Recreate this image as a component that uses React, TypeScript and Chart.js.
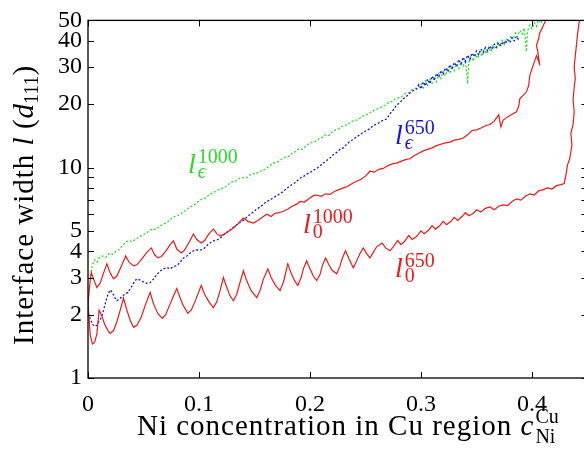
import React, { useEffect, useRef } from "react";
import { Chart, registerables } from "chart.js";
Chart.register(...registerables);

// ---- ticks ----
const xTicks = [0, 0.1, 0.2, 0.3, 0.4];
const yTicks = [1, 2, 3, 4, 5, 6, 7, 8, 9, 10, 20, 30, 40, 50];
const yLabelled = [1, 2, 3, 4, 5, 10, 20, 30, 40, 50];

// ---- l_eps^1000 (green, dotted) ----
const greenX = [
  0.000, 0.002, 0.004, 0.006, 0.008, 0.010, 0.013, 0.016, 0.019, 0.022, 0.025, 0.028, 0.031, 0.034, 0.037, 0.040,
  0.043, 0.046, 0.049, 0.052, 0.055, 0.058, 0.061, 0.064, 0.067, 0.070, 0.073, 0.076, 0.079, 0.082, 0.085, 0.088,
  0.091, 0.094, 0.097, 0.100, 0.103, 0.106, 0.109, 0.112, 0.115, 0.118, 0.121, 0.124, 0.127, 0.130, 0.133, 0.136,
  0.139, 0.142, 0.145, 0.148, 0.151, 0.154, 0.157, 0.160, 0.163, 0.166, 0.169, 0.172, 0.175, 0.178, 0.181, 0.184,
  0.187, 0.190, 0.193, 0.196, 0.199, 0.202, 0.205, 0.208, 0.211, 0.214, 0.217, 0.220, 0.223, 0.226, 0.229, 0.232,
  0.235, 0.238, 0.241, 0.244, 0.247, 0.250, 0.253, 0.256, 0.259, 0.262, 0.265, 0.268, 0.271, 0.274, 0.277, 0.280,
  0.283, 0.286, 0.289, 0.292, 0.295, 0.298, 0.300, 0.302, 0.304, 0.306, 0.308, 0.310, 0.312, 0.314, 0.316, 0.318,
  0.320, 0.322, 0.324, 0.326, 0.328, 0.330, 0.332, 0.334, 0.336, 0.338, 0.340, 0.342, 0.343, 0.345, 0.347, 0.349,
  0.351, 0.353, 0.355, 0.357, 0.359, 0.361, 0.363, 0.365, 0.367, 0.369, 0.371, 0.373, 0.375, 0.377, 0.379, 0.381,
  0.383, 0.385, 0.387, 0.389, 0.391, 0.393, 0.395, 0.396, 0.398, 0.400, 0.402, 0.404, 0.406, 0.408, 0.410,
];
const greenY = [
  2.95, 3.05, 3.45, 3.65, 3.55, 3.72, 3.80, 3.74, 3.90, 3.86, 4.00, 4.08, 4.25, 4.42, 4.50, 4.44,
  4.58, 4.66, 4.78, 4.86, 4.98, 5.12, 5.08, 5.22, 5.36, 5.45, 5.58, 5.80, 5.86, 5.95, 6.10, 6.25,
  6.45, 6.58, 6.72, 6.95, 7.10, 7.18, 7.42, 7.55, 7.70, 7.85, 7.98, 8.10, 8.35, 8.55, 8.62, 8.85,
  8.95, 8.90, 9.15, 9.35, 9.30, 9.55, 9.65, 9.85, 10.1, 10.4, 10.6, 10.7, 11.0, 11.2, 11.3, 11.7,
  11.9, 12.3, 12.2, 12.6, 13.0, 13.2, 13.3, 13.7, 13.9, 14.3, 14.2, 14.8, 15.1, 15.3, 15.7, 15.9,
  16.1, 16.6, 16.7, 17.0, 17.5, 17.7, 18.1, 18.4, 18.9, 19.1, 19.4, 19.8, 20.4, 20.6, 21.2, 21.5,
  21.8, 22.5, 22.7, 23.5, 23.8, 24.3, 25.0, 23.9, 25.8, 24.6, 26.4, 25.2, 27.0, 25.6, 27.8, 26.5,
  28.6, 27.2, 29.6, 28.0, 30.4, 28.9, 31.0, 29.5, 31.8, 30.4, 32.4, 25.0, 31.5, 33.6, 32.0, 34.6,
  33.0, 35.4, 33.8, 36.4, 34.6, 37.2, 35.4, 38.2, 36.5, 39.2, 37.6, 40.2, 38.4, 41.0, 39.6, 42.2,
  40.6, 43.5, 41.8, 44.8, 43.0, 46.0, 35.5, 44.5, 47.5, 45.6, 48.6, 46.8, 50.5, 48.5, 52.0,
];

// ---- l_eps^650 (blue, dotted) ----
const blueX = [
  0.000, 0.002, 0.004, 0.006, 0.008, 0.010, 0.012, 0.014, 0.016, 0.018, 0.020, 0.022, 0.024, 0.026, 0.028, 0.030,
  0.033, 0.036, 0.039, 0.042, 0.044, 0.047, 0.050, 0.053, 0.056, 0.059, 0.062, 0.065, 0.068, 0.071, 0.074, 0.077,
  0.080, 0.083, 0.086, 0.089, 0.092, 0.095, 0.098, 0.101, 0.104, 0.107, 0.110, 0.113, 0.116, 0.119, 0.122, 0.125,
  0.128, 0.131, 0.134, 0.137, 0.140, 0.143, 0.146, 0.149, 0.152, 0.155, 0.158, 0.161, 0.164, 0.167, 0.170, 0.173,
  0.176, 0.179, 0.182, 0.185, 0.188, 0.191, 0.194, 0.197, 0.200, 0.203, 0.206, 0.209, 0.212, 0.215, 0.218, 0.221,
  0.224, 0.227, 0.230, 0.233, 0.236, 0.239, 0.242, 0.245, 0.248, 0.251, 0.254, 0.257, 0.260, 0.263, 0.266, 0.269,
  0.272, 0.275, 0.278, 0.281, 0.284, 0.287, 0.290, 0.293, 0.296, 0.298, 0.300, 0.302, 0.304, 0.306, 0.308, 0.310,
  0.312, 0.314, 0.316, 0.318, 0.320, 0.322, 0.324, 0.326, 0.328, 0.330, 0.332, 0.334, 0.336, 0.338, 0.340, 0.342,
  0.344, 0.346, 0.348, 0.350, 0.352, 0.354, 0.356, 0.358, 0.360, 0.362, 0.364, 0.366, 0.368, 0.370, 0.372, 0.374,
  0.376, 0.378, 0.380, 0.382, 0.384, 0.386, 0.388,
];
const blueY = [
  2.03, 1.92, 1.80, 1.76, 1.78, 1.86, 1.94, 2.10, 2.30, 2.50, 2.62, 2.55, 2.42, 2.33, 2.36, 2.42,
  2.50, 2.55, 2.70, 2.88, 2.96, 2.92, 2.86, 2.82, 2.84, 2.95, 3.10, 3.22, 3.30, 3.35, 3.30, 3.38,
  3.41, 3.55, 3.72, 3.80, 3.92, 4.02, 4.06, 4.05, 4.10, 4.25, 4.38, 4.48, 4.52, 4.60, 4.78, 4.92,
  5.05, 5.20, 5.35, 5.50, 5.62, 5.80, 6.00, 6.15, 6.35, 6.48, 6.70, 6.90, 7.00, 7.20, 7.35, 7.50,
  7.70, 7.95, 8.20, 8.35, 8.60, 8.90, 9.05, 9.30, 9.45, 9.70, 9.90, 10.2, 10.5, 10.8, 11.1, 11.5,
  11.8, 12.2, 12.4, 12.9, 13.3, 13.6, 14.0, 14.3, 14.7, 15.0, 15.3, 15.8, 16.1, 16.4, 16.8, 17.0,
  18.0, 18.8, 19.8, 20.4, 21.2, 21.8, 22.6, 23.2, 23.6, 24.8, 23.6, 25.5, 24.4, 26.3, 25.0, 27.2,
  26.0, 28.0, 26.8, 28.9, 27.6, 29.8, 28.5, 30.8, 29.4, 31.6, 30.2, 32.6, 31.0, 33.4, 31.8, 34.2,
  32.6, 35.0, 33.6, 35.8, 34.4, 36.6, 35.2, 37.2, 35.8, 37.8, 36.4, 38.5, 37.2, 39.2, 37.8, 39.8,
  38.6, 40.6, 39.2, 41.4, 40.0, 42.0, 40.4,
];

// ---- l_0^1000 (red, solid) ----
const red1000X = [
  0.000, 0.002, 0.003, 0.005, 0.008, 0.011, 0.014, 0.017, 0.020, 0.023, 0.026, 0.030, 0.034, 0.037, 0.041, 0.044,
  0.048, 0.053, 0.057, 0.060, 0.063, 0.066, 0.070, 0.074, 0.077, 0.080, 0.084, 0.087, 0.091, 0.095, 0.098, 0.102,
  0.105, 0.109, 0.113, 0.116, 0.119, 0.122, 0.126, 0.131, 0.135, 0.140, 0.144, 0.149, 0.153, 0.157, 0.161, 0.165,
  0.168, 0.172, 0.176, 0.180, 0.184, 0.188, 0.191, 0.195, 0.199, 0.203, 0.206, 0.210, 0.214, 0.218, 0.222, 0.226,
  0.230, 0.234, 0.238, 0.242, 0.246, 0.250, 0.254, 0.258, 0.262, 0.266, 0.270, 0.274, 0.278, 0.282, 0.286, 0.290,
  0.294, 0.298, 0.302, 0.306, 0.310, 0.314, 0.318, 0.322, 0.326, 0.330, 0.334, 0.338, 0.342, 0.346, 0.350, 0.354,
  0.358, 0.362, 0.366, 0.370, 0.372, 0.374, 0.378, 0.382, 0.386, 0.388, 0.389, 0.392, 0.395, 0.397, 0.398, 0.401,
  0.404, 0.406, 0.407, 0.405, 0.404, 0.406, 0.407, 0.410, 0.413,
];
const red1000Y = [
  2.26, 2.90, 3.17, 2.95, 2.69, 2.82, 3.15, 3.49, 3.15, 2.96, 3.05, 3.40, 3.80, 3.55, 3.41, 3.45,
  3.65, 3.95, 4.15, 3.85, 3.72, 3.78, 4.00, 4.30, 4.48, 4.10, 3.93, 4.05, 4.40, 4.83, 4.55, 4.38,
  4.50, 4.85, 5.10, 4.85, 4.72, 4.80, 4.95, 5.16, 5.40, 5.75, 5.55, 5.45, 5.60, 5.80, 6.00, 5.85,
  6.05, 6.10, 6.20, 6.35, 6.55, 6.70, 6.90, 6.85, 7.10, 7.35, 7.40, 7.30, 7.50, 7.45, 7.70, 7.85,
  8.00, 8.15, 8.40, 8.60, 8.80, 9.10, 9.60, 9.50, 9.80, 9.90, 10.2, 10.4, 10.5, 10.7, 10.9, 11.0,
  11.4, 11.7, 12.0, 12.2, 12.4, 12.7, 12.9, 13.1, 13.2, 13.5, 13.6, 13.8, 14.3, 15.0, 15.1, 15.4,
  15.8, 16.0, 16.6, 17.8, 15.6, 16.8, 17.4, 17.9, 18.4, 19.5, 21.2, 22.0, 22.9, 24.5, 27.4, 30.5,
  34.0, 32.0, 30.6, 36.0, 38.0, 41.0, 43.6, 47.0, 51.0,
];

// ---- l_0^650 (red, solid) ----
const red650X = [
  0.000, 0.001, 0.002, 0.004, 0.006, 0.008, 0.010, 0.012, 0.015, 0.018, 0.020, 0.023, 0.026, 0.029, 0.032, 0.035,
  0.038, 0.041, 0.044, 0.048, 0.052, 0.056, 0.059, 0.063, 0.067, 0.070, 0.074, 0.077, 0.080, 0.083, 0.086, 0.090,
  0.093, 0.097, 0.102, 0.105, 0.109, 0.113, 0.116, 0.119, 0.122, 0.125, 0.128, 0.131, 0.134, 0.137, 0.140, 0.143,
  0.147, 0.152, 0.155, 0.158, 0.162, 0.165, 0.169, 0.173, 0.176, 0.180, 0.183, 0.186, 0.189, 0.192, 0.194, 0.197,
  0.200, 0.203, 0.206, 0.209, 0.211, 0.214, 0.217, 0.220, 0.224, 0.227, 0.229, 0.232, 0.235, 0.239, 0.242, 0.245,
  0.248, 0.251, 0.254, 0.257, 0.260, 0.265, 0.268, 0.272, 0.275, 0.279, 0.282, 0.285, 0.289, 0.292, 0.296, 0.300,
  0.303, 0.307, 0.310, 0.313, 0.317, 0.320, 0.323, 0.327, 0.330, 0.333, 0.337, 0.340, 0.343, 0.347, 0.350, 0.354,
  0.358, 0.362, 0.366, 0.370, 0.374, 0.378, 0.382, 0.386, 0.390, 0.394, 0.398, 0.402, 0.406, 0.410, 0.414, 0.418,
  0.422, 0.426, 0.429, 0.431, 0.432, 0.434, 0.436, 0.435, 0.437, 0.438, 0.437, 0.438, 0.439, 0.438, 0.439, 0.440,
  0.441, 0.442, 0.443,
];
const red650Y = [
  2.30, 1.90, 1.60, 1.45, 1.48, 1.62, 2.10, 2.00, 1.80, 1.68, 1.63, 1.68, 1.85, 2.10, 2.40, 2.10,
  1.88, 1.74, 1.78, 1.95, 2.25, 2.55, 2.25, 2.02, 1.92, 2.00, 2.25, 2.45, 2.66, 2.40, 2.20, 2.03,
  2.10, 2.35, 2.75, 2.50, 2.30, 2.16, 2.30, 2.60, 3.00, 2.70, 2.45, 2.33, 2.50, 2.85, 3.23, 2.90,
  2.60, 2.41, 2.60, 2.95, 3.30, 3.00, 2.75, 2.60, 2.85, 3.49, 3.15, 2.90, 2.75, 3.00, 3.30, 3.60,
  3.30, 3.05, 2.90, 3.10, 3.40, 3.72, 3.45, 3.25, 3.13, 3.40, 3.70, 4.02, 3.70, 3.34, 3.60, 3.90,
  4.15, 3.90, 3.72, 3.95, 4.20, 4.38, 4.15, 4.02, 4.20, 4.50, 4.30, 4.45, 4.75, 4.55, 4.70, 5.00,
  4.85, 5.05, 5.30, 5.10, 5.30, 5.55, 5.35, 5.55, 5.80, 5.60, 5.85, 6.10, 5.90, 6.05, 6.30, 6.15,
  6.40, 6.50, 6.30, 6.55, 6.65, 6.60, 6.90, 7.10, 7.00, 7.30, 7.50, 7.40, 7.75, 7.85, 8.00, 7.90,
  8.20, 8.30, 8.40, 9.50, 10.3, 11.0, 12.8, 14.5, 16.0, 18.4, 21.0, 24.0, 26.4, 30.0, 34.0, 38.0,
  43.0, 47.0, 51.0,
];

const GREEN = "rgb(40,220,40)";
const BLUE = "rgb(20,20,225)";
const RED = "rgb(235,25,25)";
const SERIF = '"Liberation Serif", "Times New Roman", "DejaVu Serif", serif';

type Run = { t: string; size: number; italic?: boolean; dy?: number; stack?: boolean; gap?: number; ls?: number };

function drawRuns(ctx: CanvasRenderingContext2D, runs: Run[], x: number, y: number, angle: number, color: string) {
  ctx.save();
  ctx.translate(x, y);
  ctx.rotate(angle);
  ctx.fillStyle = color;
  ctx.textBaseline = "alphabetic";
  ctx.textAlign = "left";
  let cx = 0;
  let stackStart = 0;
  for (const r of runs) {
    ctx.font = `${r.italic ? "italic " : ""}${r.size}px ${SERIF}`;
    (ctx as any).letterSpacing = `${r.ls || 0}px`;
    const w = ctx.measureText(r.t).width;
    if (r.stack) {
      ctx.fillText(r.t, stackStart, r.dy || 0);
      cx = Math.max(cx, stackStart + w);
    } else {
      cx += r.gap || 0;
      stackStart = cx;
      ctx.fillText(r.t, cx, r.dy || 0);
      cx += w;
    }
  }
  ctx.restore();
}

// series label anchors (data coordinates) and their runs
const seriesLabels = [
  { x: 0.0901, y: 9.38, color: GREEN, sup: "1000", sub: "\u03F5" },
  { x: 0.2766, y: 13.0, color: BLUE, sup: "650", sub: "\u03F5" },
  { x: 0.1937, y: 4.89, color: RED, sup: "1000", sub: "0" },
  { x: 0.2766, y: 3.03, color: RED, sup: "650", sub: "0" },
];

const pts = (xs: number[], ys: number[]) => xs.map((x, i) => ({ x, y: ys[i] }));

const decor = {
  id: "decor",
  afterDraw(chart: any) {
    const { ctx, chartArea: a, scales } = chart;
    const xs = scales.x;
    const ys = scales.y;
    ctx.save();
    ctx.strokeStyle = "#000";
    ctx.lineWidth = 1.3;
    ctx.strokeRect(a.left, a.top, a.right - a.left, a.bottom - a.top);
    ctx.lineWidth = 1;
    ctx.beginPath();
    for (const v of xTicks) {
      const p = Math.round(xs.getPixelForValue(v)) + 0.5;
      ctx.moveTo(p, a.bottom);
      ctx.lineTo(p, a.bottom - 6);
      ctx.moveTo(p, a.top);
      ctx.lineTo(p, a.top + 6);
    }
    for (const v of yTicks) {
      const p = Math.round(ys.getPixelForValue(v)) + 0.5;
      ctx.moveTo(a.left, p);
      ctx.lineTo(a.left + 6, p);
      ctx.moveTo(a.right, p);
      ctx.lineTo(a.right - 6, p);
    }
    ctx.stroke();
    ctx.restore();

    // axis titles
    drawRuns(
      ctx,
      [
        { t: "Interface width ", size: 29, ls: 1 },
        { t: "l", size: 29, italic: true },
        { t: " (", size: 29, ls: 1 },
        { t: "d", size: 29, italic: true },
        { t: "111", size: 20, dy: 5 },
        { t: ")", size: 29 },
      ],
      33,
      345,
      -Math.PI / 2,
      "#000"
    );
    drawRuns(
      ctx,
      [
        { t: "Ni concentration in Cu region ", size: 29, ls: 1 },
        { t: "c", size: 29, italic: true },
        { t: "Cu", size: 20, dy: -12, gap: 2 },
        { t: "Ni", size: 20, dy: 8, stack: true },
      ],
      137,
      435,
      0,
      "#000"
    );

    // series labels
    for (const L of seriesLabels) {
      const px = xs.getPixelForValue(L.x);
      const py = ys.getPixelForValue(L.y);
      drawRuns(
        ctx,
        [
          { t: "l", size: 28, italic: true },
          { t: L.sup, size: 20, dy: -10, gap: 2 },
          { t: L.sub, size: 20, dy: 5, stack: true, italic: L.sub !== "0" },
        ],
        px,
        py,
        0,
        L.color
      );
    }
  },
};

export default function App() {
  const ref = useRef<HTMLCanvasElement>(null);
  useEffect(() => {
    if (!ref.current) return;
    const chart = new Chart(ref.current, {
      type: "line",
      data: {
        datasets: [
          { label: "l0_650", data: pts(red650X, red650Y), borderColor: RED, borderWidth: 1.2, pointRadius: 0, fill: false },
          { label: "l0_1000", data: pts(red1000X, red1000Y), borderColor: RED, borderWidth: 1.2, pointRadius: 0, fill: false },
          { label: "leps_650", data: pts(blueX, blueY), borderColor: BLUE, borderWidth: 1.3, borderDash: [2, 2], pointRadius: 0, fill: false },
          { label: "leps_1000", data: pts(greenX, greenY), borderColor: GREEN, borderWidth: 1.3, borderDash: [2, 2], pointRadius: 0, fill: false },
        ],
      },
      options: {
        animation: false,
        responsive: false,
        maintainAspectRatio: false,
        parsing: false as any,
        layout: { padding: { left: 0, right: 12.5, top: 18, bottom: 0 } },
        plugins: { legend: { display: false }, tooltip: { enabled: false } },
        elements: { line: { tension: 0 }, point: { radius: 0 } },
        scales: {
          x: {
            type: "linear",
            min: 0,
            max: 0.45,
            grid: { display: false, drawTicks: false },
            border: { display: false },
            afterBuildTicks: (s: any) => {
              s.ticks = xTicks.map((v) => ({ value: v }));
            },
            afterFit: (s: any) => {
              s.height = 72;
            },
            ticks: {
              autoSkip: false,
              maxRotation: 0,
              padding: 12,
              color: "#000",
              font: { family: SERIF, size: 24 },
              callback: (v: any) => (Number(v) === 0 ? "0" : Number(v).toFixed(1)),
            },
          },
          y: {
            type: "logarithmic",
            min: 1,
            max: 50,
            grid: { display: false, drawTicks: false },
            border: { display: false },
            afterBuildTicks: (s: any) => {
              s.ticks = yTicks.map((v) => ({ value: v }));
            },
            afterFit: (s: any) => {
              s.width = 88;
            },
            ticks: {
              autoSkip: false,
              padding: 6,
              color: "#000",
              font: { family: SERIF, size: 24 },
              callback: (v: any) => (yLabelled.includes(Number(v)) ? String(v) : ""),
            },
          },
        },
      },
      plugins: [decor],
    } as any);
    return () => chart.destroy();
  }, []);
  return (
    <div style={{ position: "absolute", left: 0, top: 0, width: 584, height: 450, overflow: "hidden", background: "#fff" }}>
      <canvas ref={ref} width={600} height={450} style={{ display: "block", width: 600, height: 450 }} />
    </div>
  );
}
